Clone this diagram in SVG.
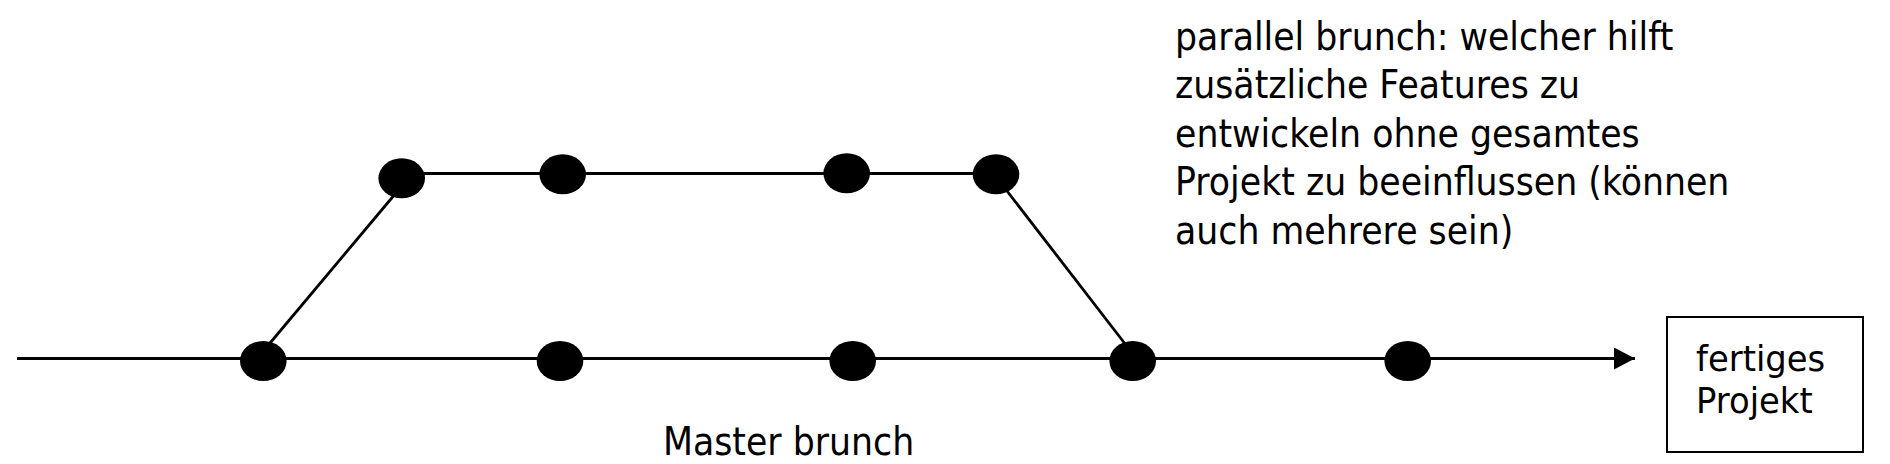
<svg xmlns="http://www.w3.org/2000/svg" width="1890" height="464" viewBox="0 0 1890 464">
  <style>
    .edge { stroke: #000; stroke-width: 2.8; fill: none; }
    .dot { fill: #000; }
    .lbl { font-family: "DejaVu Sans", "Liberation Sans", sans-serif; font-size: 39.5px; fill: #000; }
    .lbl-sm { font-family: "DejaVu Sans", "Liberation Sans", sans-serif; font-size: 36px; fill: #000; }
    .box { fill: #fff; stroke: #000; stroke-width: 2; }
  </style>
  <defs>
    <marker id="arrow" markerUnits="userSpaceOnUse" markerWidth="22" markerHeight="24" refX="21" refY="11" orient="auto">
      <polygon points="0,0 21,11 0,22" fill="#000"/>
    </marker>
  </defs>
  <rect width="1890" height="464" fill="#fff"/>
  <g id="connectors">
    <line class="edge" x1="17" y1="358.5" x2="1635" y2="358.5" marker-end="url(#arrow)"/>
    <line class="edge" x1="401.7" y1="173.5" x2="996" y2="173.5"/>
    <line class="edge" x1="260" y1="355" x2="406" y2="181"/>
    <line class="edge" x1="997" y1="178" x2="1136" y2="358"/>
  </g>
  <g id="master-nodes">
    <ellipse id="m1" class="dot" cx="263.3" cy="361" rx="23.3" ry="20"/>
    <ellipse id="m2" class="dot" cx="560" cy="361" rx="23.3" ry="20"/>
    <ellipse id="m3" class="dot" cx="852.7" cy="361" rx="23.3" ry="20"/>
    <ellipse id="m4" class="dot" cx="1132.7" cy="361" rx="23.3" ry="20"/>
    <ellipse id="m5" class="dot" cx="1407.7" cy="361" rx="23.3" ry="20"/>
  </g>
  <g id="parallel-nodes">
    <ellipse id="p1" class="dot" cx="401.7" cy="178.3" rx="23.3" ry="20"/>
    <ellipse id="p2" class="dot" cx="562.7" cy="174.3" rx="23.3" ry="20"/>
    <ellipse id="p3" class="dot" cx="846.7" cy="173.3" rx="23.3" ry="20"/>
    <ellipse id="p4" class="dot" cx="996" cy="174.3" rx="23.3" ry="20"/>
  </g>
  <g id="result">
    <rect class="box" x="1667" y="317" width="196" height="135"/>
    <text class="lbl-sm" transform="translate(1696,0) scale(0.94,1)"><tspan x="0" y="371">fertiges</tspan><tspan x="0" y="413">Projekt</tspan></text>
  </g>
  <g id="master-label">
    <text class="lbl" transform="translate(663,0) scale(0.88,1)" x="0" y="455">Master brunch</text>
  </g>
  <g id="parallel-label">
    <text class="lbl" transform="translate(1175,0) scale(0.88,1)">
      <tspan x="0" y="50">parallel brunch: welcher hilft</tspan>
      <tspan x="0" y="98.5">zusätzliche Features zu</tspan>
      <tspan x="0" y="147">entwickeln ohne gesamtes</tspan>
      <tspan x="0" y="195.5">Projekt zu beeinflussen (können</tspan>
      <tspan x="0" y="244">auch mehrere sein)</tspan>
    </text>
  </g>
</svg>
